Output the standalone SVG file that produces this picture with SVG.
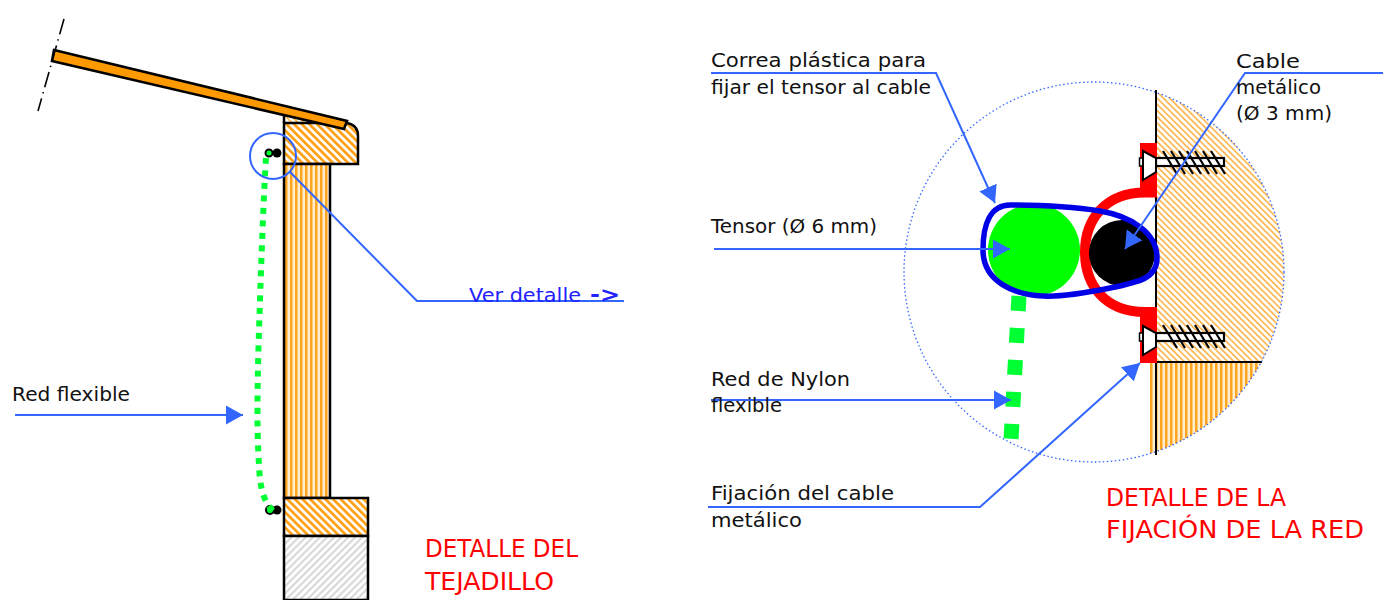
<svg xmlns="http://www.w3.org/2000/svg" width="1383" height="600" viewBox="0 0 1383 600">
<style>
text{font-family:"DejaVu Sans","Liberation Sans",sans-serif}
.lb{font-size:19px;fill:#111}
.ti{font-size:24.5px;fill:#ff0000}
.s{stroke:#000;stroke-width:2.5;fill:none}
.c{stroke:#3366ff;stroke-width:2;fill:none}
.th{stroke:#000;stroke-width:2.2;fill:none}
</style>
<defs>
<pattern id="hd" width="5.4" height="5.4" patternUnits="userSpaceOnUse" patternTransform="rotate(-45)"><rect width="5.4" height="5.4" fill="#fff"/><rect width="2.8" height="5.4" fill="#ffa21a"/></pattern>
<pattern id="hf" width="4.4" height="4.4" patternUnits="userSpaceOnUse" patternTransform="rotate(-45)"><rect width="4.4" height="4.4" fill="#fff"/><rect width="1.6" height="4.4" fill="#ffb347"/></pattern>
<pattern id="hv" width="5" height="5" patternUnits="userSpaceOnUse"><rect width="5" height="5" fill="#ffe2b0"/><rect width="2.4" height="5" fill="#ffa41f"/><rect x="3.6" width="0.8" height="5" fill="#fff"/></pattern>
<pattern id="hg" width="5" height="5" patternUnits="userSpaceOnUse" patternTransform="rotate(45)"><rect width="5" height="5" fill="#fff"/><rect width="2.2" height="5" fill="#d8d8d8"/></pattern>
<marker id="ah" markerUnits="userSpaceOnUse" markerWidth="18" markerHeight="20" refX="17" refY="10" orient="auto"><path d="M0,0.5L17,10L0,19.5Z" fill="#3366ff"/></marker>
<clipPath id="cc"><circle cx="1094" cy="272" r="190"/></clipPath>
</defs>

<g id="tejadillo">
<path d="M284,115L284,123L316,123Z" fill="url(#hf)"/>
<path d="M284,123H347Q358,125 358,136V164H284Z" style="fill:url(#hd)" class="s"/>
<path d="M284,115V123" class="s"/>
<rect x="284" y="164" width="46" height="334" style="fill:url(#hv)" class="s"/>
<rect x="284" y="498" width="84" height="38" style="fill:url(#hd)" class="s"/>
<path d="M284,536H368V600H284Z" style="fill:url(#hg)" class="s"/>
<path d="M54,50L347,121L344,129L52,61Z" fill="#ff9900" stroke="#000" stroke-width="2.600"/>
<path d="M64,19L38,111" stroke="#000" stroke-width="1.600" fill="none" stroke-dasharray="16 5 1.500 5"/>
</g>

<g id="red-flexible">
<circle cx="277" cy="153" r="4.500" fill="#000"/>
<circle cx="269" cy="153" r="3.500" fill="#00ff33" stroke="#000" stroke-width="2"/>
<circle cx="277" cy="510" r="4.500" fill="#000"/>
<circle cx="270" cy="510" r="4" fill="#00ff33" stroke="#000" stroke-width="2"/>
<path d="M266,158C264,190 262,240 260,300C258,360 256,420 259,465C260,490 264,502 274,512" fill="none" stroke="#00ff33" stroke-width="6" stroke-dasharray="6 6.500"/>
</g>

<g id="circulo-detalle"><circle cx="273" cy="156" r="23" fill="none" stroke="#3366ff" stroke-width="2"/></g>

<g id="muro">
<g clip-path="url(#cc)">
<rect x="1156" y="82" width="130" height="280" fill="url(#hf)"/>
<rect x="1150" y="362" width="130" height="100" fill="url(#hv)"/>
</g>
<path d="M1156,90V455" stroke="#000" stroke-width="2" fill="none"/>
<path d="M1156,362H1262" stroke="#000" stroke-width="2" fill="none"/>
<circle cx="1094" cy="272" r="190" fill="none" stroke="#3366ff" stroke-width="1.300" stroke-dasharray="1.500 2.500"/>
</g>

<g id="fijacion">
<path d="M1157,192.500H1145C1105,192.500 1085,220 1085,252C1085,285 1105,312 1145,312H1157" fill="none" stroke="#ff0000" stroke-width="10"/>
<rect x="1140" y="143" width="17" height="54" fill="#ff0000"/>
<rect x="1140" y="310" width="17" height="53" fill="#ff0000"/>
</g>

<g id="tornillo-1">
<rect x="1156" y="158" width="68" height="8" fill="#fff" stroke="#000" stroke-width="2.200"/>
<rect x="1139.500" y="158" width="4" height="8" fill="#fff" stroke="#000" stroke-width="1.500"/>
<path d="M1143,151L1156,158V172L1143,180Z" fill="#fff" stroke="#000" stroke-width="2"/>
<path d="M1163,151l14,23M1171,151l14,23M1179,151l14,23M1187,151l14,23M1195,151l14,23M1203,151l14,23M1211,151l14,23" class="th"/>
</g>
<g id="tornillo-2">
<rect x="1156" y="333" width="68" height="8" fill="#fff" stroke="#000" stroke-width="2.200"/>
<rect x="1139.500" y="333" width="4" height="8" fill="#fff" stroke="#000" stroke-width="1.500"/>
<path d="M1143,326L1156,333V347L1143,355Z" fill="#fff" stroke="#000" stroke-width="2"/>
<path d="M1163,325l14,23M1171,325l14,23M1179,325l14,23M1187,325l14,23M1195,325l14,23M1203,325l14,23M1211,325l14,23" class="th"/>
</g>

<g id="tensor"><circle cx="1034" cy="250" r="46" fill="#00ff00"/>
<path d="M1019,296L1011,440" stroke="#00ff33" stroke-width="15" stroke-dasharray="15 17" fill="none"/></g>
<g id="cable"><circle cx="1122" cy="253" r="33" fill="#000"/></g>
<g id="correa"><path d="M1010,205C1040,205 1075,207 1100,211C1130,216 1157,232 1157,258C1157,278 1140,282 1110,288C1085,293 1060,297 1043,296C1015,295 983,282 983,250C983,225 990,205 1010,205Z" fill="none" stroke="#0000e6" stroke-width="5.500"/></g>

<g id="conectores">
<path d="M290,172L417,301H624" class="c"/>
<path d="M15,415H243" class="c" marker-end="url(#ah)"/>
<path d="M711,73H936L995,203" class="c" marker-end="url(#ah)"/>
<path d="M1383,73H1245L1125,249" class="c" marker-end="url(#ah)"/>
<path d="M714,249H1010" class="c" marker-end="url(#ah)"/>
<path d="M711,400H1011" class="c" marker-end="url(#ah)"/>
<path d="M708,507H980L1140,363" class="c" marker-end="url(#ah)"/>
</g>

<g id="textos">
<text x="469" y="302" font-size="19" fill="#2222ff" textLength="112" lengthAdjust="spacingAndGlyphs">Ver detalle</text>
<text x="590" y="302" font-size="22" fill="#2222ff" font-weight="bold" textLength="30" lengthAdjust="spacingAndGlyphs">-&gt;</text>
<text class="lb" x="12" y="401" textLength="118" lengthAdjust="spacingAndGlyphs">Red flexible</text>
<text class="lb" x="711" y="67" textLength="215" lengthAdjust="spacingAndGlyphs">Correa plástica para</text>
<text class="lb" x="711" y="94" textLength="220" lengthAdjust="spacingAndGlyphs">fijar el tensor al cable</text>
<text class="lb" x="1236" y="68" textLength="64" lengthAdjust="spacingAndGlyphs">Cable</text>
<text class="lb" x="1236" y="94" textLength="85" lengthAdjust="spacingAndGlyphs">metálico</text>
<text class="lb" x="1236" y="120" textLength="96" lengthAdjust="spacingAndGlyphs">(Ø 3 mm)</text>
<text class="lb" x="711" y="233" textLength="166" lengthAdjust="spacingAndGlyphs">Tensor (Ø 6 mm)</text>
<text class="lb" x="711" y="386" textLength="139" lengthAdjust="spacingAndGlyphs">Red de Nylon</text>
<text class="lb" x="711" y="412" textLength="71" lengthAdjust="spacingAndGlyphs">flexible</text>
<text class="lb" x="711" y="500" textLength="183" lengthAdjust="spacingAndGlyphs">Fijación del cable</text>
<text class="lb" x="711" y="527" textLength="91" lengthAdjust="spacingAndGlyphs">metálico</text>
<text class="ti" x="425" y="557" textLength="153" lengthAdjust="spacingAndGlyphs">DETALLE DEL</text>
<text class="ti" x="425" y="590" textLength="129" lengthAdjust="spacingAndGlyphs">TEJADILLO</text>
<text class="ti" x="1106" y="506" textLength="180" lengthAdjust="spacingAndGlyphs">DETALLE DE LA</text>
<text class="ti" x="1106" y="538" textLength="258" lengthAdjust="spacingAndGlyphs">FIJACIÓN DE LA RED</text>
</g>
</svg>
